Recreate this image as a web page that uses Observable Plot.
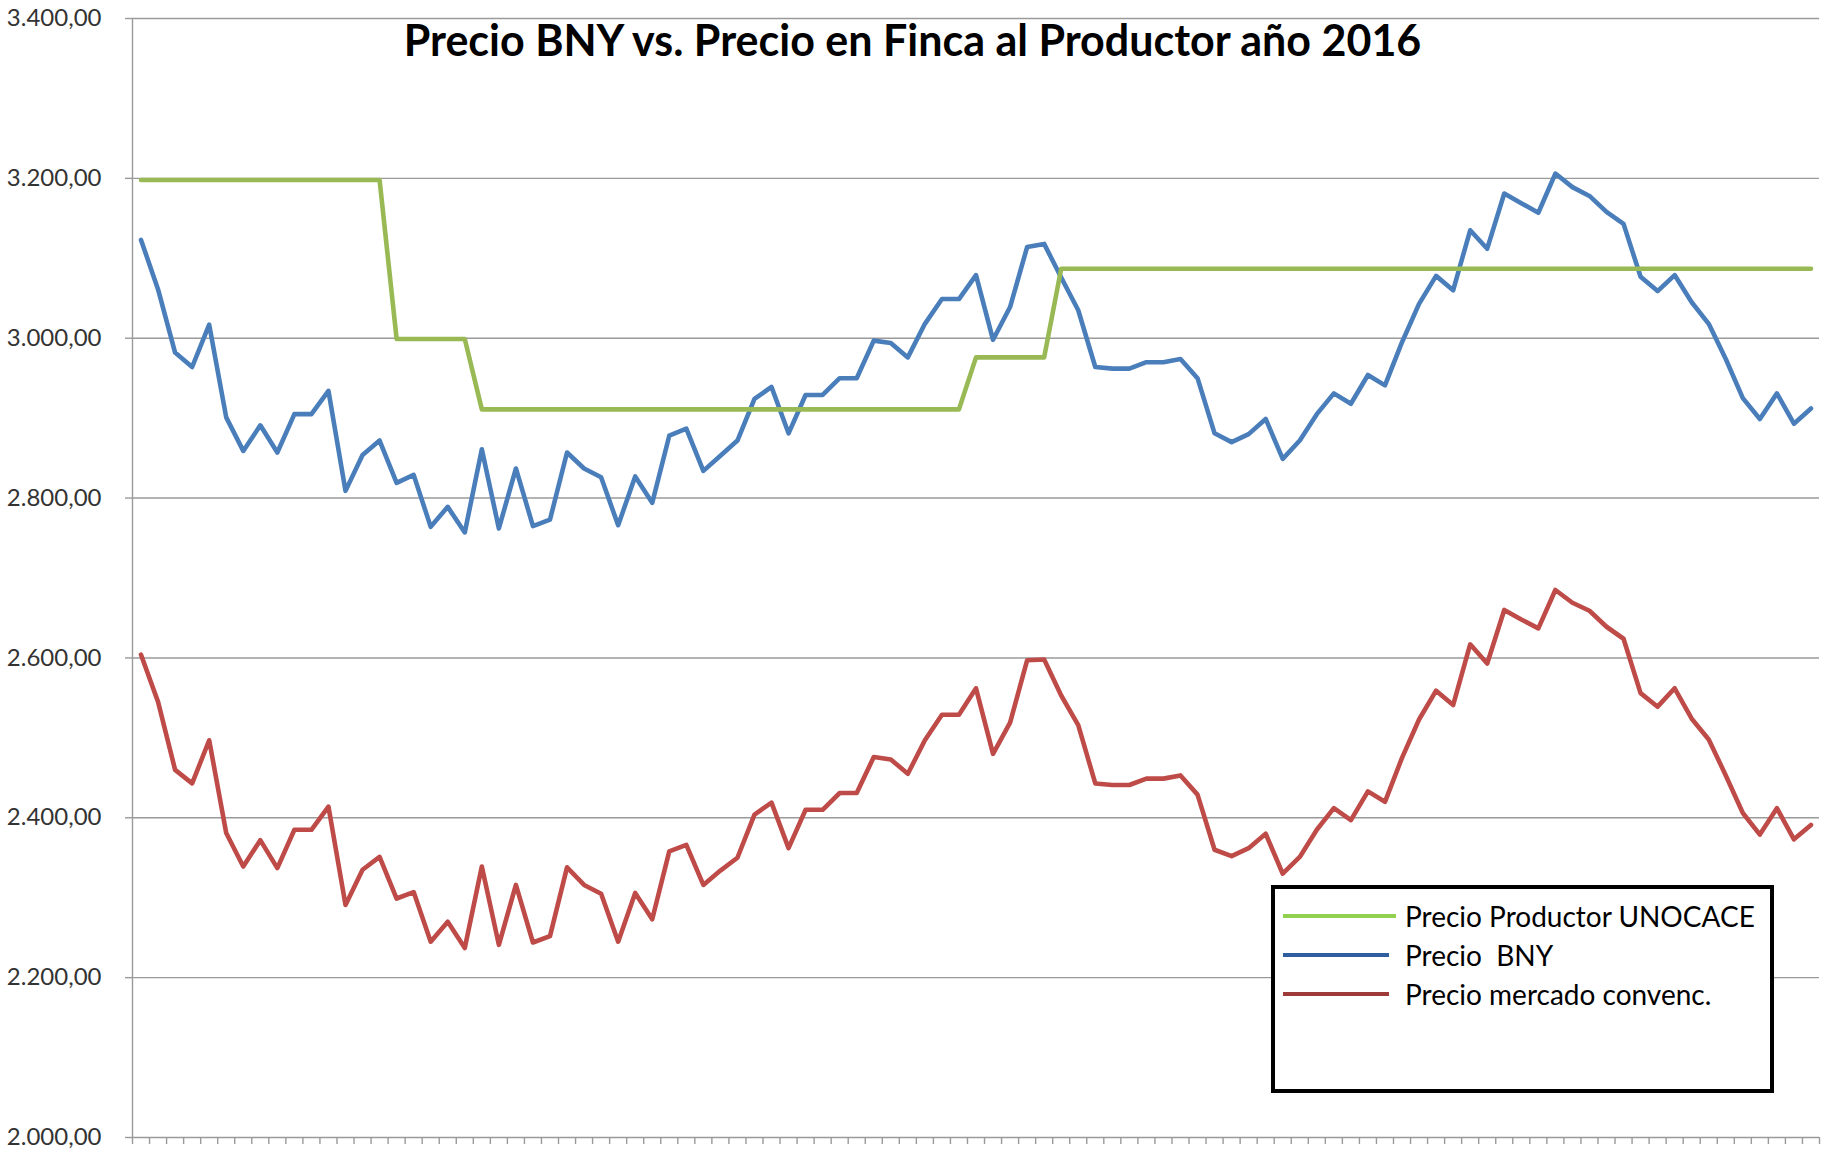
<!DOCTYPE html>
<html><head><meta charset="utf-8">
<script src="https://cdn.jsdelivr.net/npm/d3@7"></script>
<script src="https://cdn.jsdelivr.net/npm/@observablehq/plot@0.6"></script>
<style>
html,body{margin:0;padding:0;background:#fff;}
#wrap{position:relative;width:1825px;height:1154px;font-family:Lato,"Open Sans",sans-serif;overflow:hidden;}
#chart{position:absolute;left:0;top:0;}
#title{position:absolute;left:0;top:18px;width:1825px;text-align:center;font-weight:bold;font-size:43px;line-height:43px;color:#000;}
#legend{position:absolute;left:1271px;top:885px;width:495px;height:200px;border:4px solid #000;background:#fff;}
.row{position:absolute;left:8px;height:40px;display:flex;align-items:center;font-size:28px;color:#000;white-space:pre;}
.sw{height:4px;}
</style></head><body>
<div id="wrap"><div id="chart"></div><div id="title"></div><div id="legend"></div></div>
<script>
const title = "Precio BNY vs. Precio en Finca al Productor año 2016";
const seriesNames = ["Precio Productor UNOCACE", "Precio  BNY", "Precio mercado convenc."];
const lineColors = ["#98B954", "#4A7EBB", "#BE4B48"];
const legendColors = ["#92D050", "#2F5F9F", "#9E3A38"];
const yTicks = [2000, 2200, 2400, 2600, 2800, 3000, 3200, 3400];

const unocace = [3198,3198,3198,3198,3198,3198,3198,3198,3198,3198,3198,3198,3198,3198,3198,
  2999,2999,2999,2999,2999,
  2911,2911,2911,2911,2911,2911,2911,2911,2911,2911,2911,2911,2911,2911,2911,2911,2911,2911,2911,2911,2911,2911,2911,2911,2911,2911,2911,2911,2911,
  2976,2976,2976,2976,2976,
  3087,3087,3087,3087,3087,3087,3087,3087,3087,3087,3087,3087,3087,3087,3087,3087,3087,3087,3087,3087,3087,3087,3087,3087,3087,3087,3087,3087,3087,3087,3087,3087,3087,3087,3087,3087,3087,3087,3087,3087,3087,3087,3087,3087,3087];

const bny = [3123,3061,2982,2964,3017,2901,2859,2891,2857,2905,
  2905,2934,2809,2854,2872,2819,2829,2764,2789,2757,
  2861,2762,2837,2765,2773,2857,2837,2826,2766,2827,
  2794,2878,2887,2834,2853,2872,2924,2939,2881,2929,
  2929,2950,2950,2997,2994,2976,3018,3049,3049,3079,
  2998,3039,3114,3118,3076,3035,2964,2962,2962,2970,
  2970,2974,2950,2881,2870,2880,2899,2849,2872,2905,
  2931,2918,2954,2941,2995,3043,3078,3060,3135,3112,
  3181,3169,3157,3206,3189,3178,3158,3143,3077,3059,
  3079,3045,3018,2974,2925,2899,2931,2893,2912];

const convencional = [2604,2545,2460,2443,2497,2381,2339,2372,2337,2385,
  2385,2414,2291,2335,2351,2299,2307,2245,2270,2237,
  2339,2241,2316,2244,2252,2338,2316,2305,2245,2306,
  2273,2358,2366,2316,2334,2350,2404,2419,2362,2410,
  2410,2431,2431,2476,2473,2455,2497,2529,2529,2562,
  2480,2519,2597,2598,2553,2516,2443,2441,2441,2449,
  2449,2453,2429,2360,2352,2362,2380,2330,2351,2385,
  2412,2397,2433,2420,2475,2523,2559,2541,2617,2593,
  2660,2648,2637,2685,2669,2659,2639,2624,2556,2539,
  2562,2524,2498,2453,2406,2379,2412,2373,2391];

const n = bny.length;
const toRows = arr => arr.map((v, i) => ({i, v}));
const boundaries = d3.range(n + 1).map(k => k - 0.5);
const loc = d3.formatLocale({decimal: ",", thousands: ".", grouping: [3], currency: ["", ""]});
const fmt = loc.format(",.2f");

const chart = Plot.plot({
  width: 1825, height: 1154,
  marginLeft: 132, marginRight: 6, marginTop: 18, marginBottom: 17,
  style: {fontFamily: "Lato, 'Open Sans', sans-serif", background: "#fff"},
  x: {type: "linear", domain: [-0.5, n - 0.5], axis: null},
  y: {domain: [2000, 3400], axis: null},
  marks: [
    Plot.ruleY(yTicks, {stroke: "#9a9a9a", strokeWidth: 1.4}),
    Plot.ruleX([-0.5], {stroke: "#9a9a9a", strokeWidth: 1.4}),
    Plot.axisY({ticks: yTicks, tickSize: 7, tickPadding: 24, tickFormat: fmt, fontSize: 24, stroke: "#9a9a9a", strokeWidth: 1.4, color: "#333", anchor: "left", label: null}),
    Plot.axisX({ticks: boundaries, tickSize: 7, tickFormat: () => "", stroke: "#9a9a9a", strokeWidth: 1.4, anchor: "bottom", label: null}),
    Plot.line(toRows(convencional), {x: "i", y: "v", stroke: lineColors[2], strokeWidth: 4.6}),
    Plot.line(toRows(bny), {x: "i", y: "v", stroke: lineColors[1], strokeWidth: 4.6}),
    Plot.line(toRows(unocace), {x: "i", y: "v", stroke: lineColors[0], strokeWidth: 4.6})
  ]
});
document.getElementById("chart").appendChild(chart);
document.getElementById("title").textContent = title;

const legend = document.getElementById("legend");
const swLen = [113, 106, 106];
const rowTops = [7, 46, 85];
seriesNames.forEach((name, k) => {
  const row = document.createElement("div");
  row.className = "row";
  row.style.top = rowTops[k] + "px";
  const sw = document.createElement("div");
  sw.className = "sw";
  sw.style.width = swLen[k] + "px";
  sw.style.background = legendColors[k];
  sw.style.marginRight = (122 - swLen[k]) + "px";
  const t = document.createElement("span");
  t.textContent = name;
  row.appendChild(sw); row.appendChild(t);
  legend.appendChild(row);
});
</script>
</body></html>
